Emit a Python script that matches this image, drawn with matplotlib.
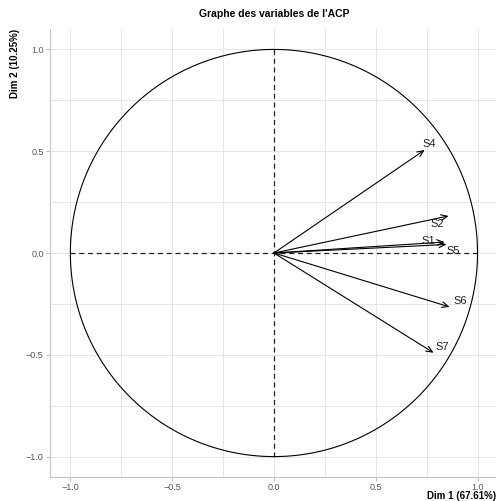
import matplotlib.pyplot as plt
import numpy as np

plt.rcParams["font.family"] = ["Liberation Sans", "DejaVu Sans"]

# variable coordinates on the first two components
variables = ["S1", "S2", "S4", "S5", "S6", "S7"]
dim1 = [0.838, 0.858, 0.740, 0.848, 0.863, 0.784]
dim2 = [0.054, 0.182, 0.506, 0.042, -0.265, -0.490]
# label offsets (points) so names do not sit on the arrow heads
label_dx = [-12, -8, 3, 5, 8, 6]
label_dy = [1, -6, 4, -5, 4, 4]

ticks = [-1.0, -0.5, 0.0, 0.5, 1.0]
minor_ticks = [-0.75, -0.25, 0.25, 0.75]

fig = plt.figure(figsize=(4.96, 5.01), dpi=100)
ax = fig.add_axes([0.1008, 0.048, 0.903, 0.894])

# correlation circle
theta = np.linspace(0, 2 * np.pi, 400)
ax.plot(np.cos(theta), np.sin(theta), color="black", lw=0.8, zorder=3)
ax.plot([-1, 1], [0, 0], color="#222222", lw=0.9, ls=(0, (4, 3)), zorder=2)
ax.plot([0, 0], [-1, 1], color="#222222", lw=0.9, ls=(0, (4, 3)), zorder=2)

for name, x, y, dx, dy in zip(variables, dim1, dim2, label_dx, label_dy):
    ax.annotate("", xy=(x, y), xytext=(0, 0),
                arrowprops=dict(arrowstyle="->,head_length=0.45,head_width=0.2",
                                color="black", lw=0.8, shrinkA=0, shrinkB=0),
                zorder=4)
    ax.annotate(name, xy=(x, y), xytext=(dx, dy), textcoords="offset points",
                fontsize=8, color="#222222", ha="center", va="center", zorder=5)

ax.set_xlim(-1.1, 1.1)
ax.set_ylim(-1.1, 1.1)
ax.set_xticks(ticks)
ax.set_yticks(ticks)
ax.set_xticks(minor_ticks, minor=True)
ax.set_yticks(minor_ticks, minor=True)
ax.set_xticklabels([f"{t:.1f}".replace("-", "\u2212") for t in ticks])
ax.set_yticklabels([f"{t:.1f}".replace("-", "\u2212") for t in ticks])
ax.tick_params(which="major", length=3, width=0.6, color="#b0b0b0",
               labelsize=6.5, labelcolor="#555555", pad=1.5)
ax.tick_params(which="minor", length=0)
ax.grid(which="both", color="#e6e6e6", lw=0.7, zorder=0)
ax.set_axisbelow(True)

for side in ["top", "right"]:
    ax.spines[side].set_visible(False)
for side in ["left", "bottom"]:
    ax.spines[side].set_color("#c4c4c4")
    ax.spines[side].set_linewidth(0.8)

ax.set_title("Graphe des variables de l'ACP", fontsize=7.5, fontweight="bold", pad=9)
ax.set_xlabel("Dim 1 (67.61%)", fontsize=7, fontweight="bold", ha="right", va="center")
ax.xaxis.set_label_coords(0.995, -0.043)
ax.set_ylabel("Dim 2 (10.25%)", fontsize=7, fontweight="bold", ha="right", va="center")
ax.yaxis.set_label_coords(-0.078, 1.0)

fig.savefig("out.png", dpi=100)
